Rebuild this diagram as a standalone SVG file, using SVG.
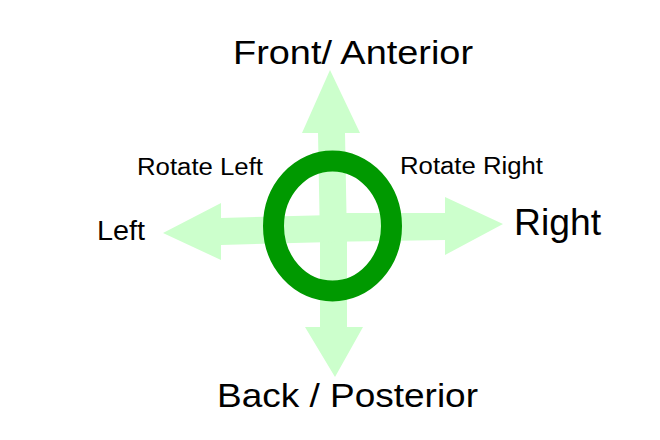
<svg xmlns="http://www.w3.org/2000/svg" width="660" height="440" viewBox="0 0 660 440">
<style>
.arrow{fill:#ccffcc;stroke:none}
.ring{fill:none;stroke:#009900;stroke-width:21}
text{font-family:"Liberation Sans",Arial,sans-serif;fill:#000}
</style>
<rect width="660" height="440" fill="#fff"/>
<g id="connectors">
<polygon id="arrow-up" class="arrow" points="320,242 318,133 302,133 330,70 360,133 345,133 347,242"/>
<polygon id="arrow-down" class="arrow" points="320,228 320,327 305,327 335,377 363,327 347,327 347,228"/>
<polygon id="arrow-left" class="arrow" points="333,215 221,218 221,203 163,233 221,260 221,245 333,242"/>
<polygon id="arrow-right" class="arrow" points="320,213 445,213 445,197 503,224 445,255 445,240 320,242"/>
</g>
<g id="ring"><ellipse class="ring" cx="332.5" cy="226" rx="59" ry="65"/></g>
<g id="front"><text x="233" y="64" font-size="34" textLength="240" lengthAdjust="spacingAndGlyphs">Front/ Anterior</text></g>
<g id="back"><text x="217" y="407" font-size="34" textLength="261" lengthAdjust="spacingAndGlyphs">Back / Posterior</text></g>
<g id="left"><text x="97" y="240" font-size="27" textLength="48" lengthAdjust="spacingAndGlyphs">Left</text></g>
<g id="right"><text x="514" y="235" font-size="36" textLength="87" lengthAdjust="spacingAndGlyphs">Right</text></g>
<g id="rotate-left"><text x="137" y="175" font-size="23" textLength="126" lengthAdjust="spacingAndGlyphs">Rotate Left</text></g>
<g id="rotate-right"><text x="400" y="174" font-size="23" textLength="143" lengthAdjust="spacingAndGlyphs">Rotate Right</text></g>
</svg>
